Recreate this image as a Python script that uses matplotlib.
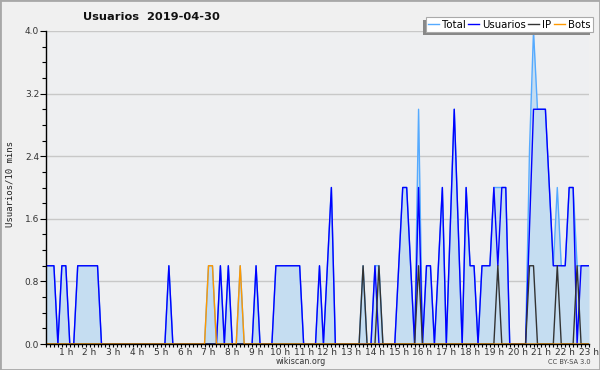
import matplotlib
matplotlib.use("Agg")
import matplotlib.pyplot as plt
from matplotlib.patches import Rectangle
from matplotlib.ticker import MultipleLocator, FixedLocator, FuncFormatter
import numpy as np

# ---- data (one value per 10 minutes, 00:10 .. 23:00) ----
n_points = 138
usuarios_nonzero = {0: 1, 1: 1, 2: 1, 4: 1, 5: 1, 8: 1, 9: 1, 10: 1, 11: 1, 12: 1, 13: 1,
                    31: 1, 44: 1, 46: 1, 53: 1,
                    58: 1, 59: 1, 60: 1, 61: 1, 62: 1, 63: 1, 64: 1,
                    69: 1, 71: 1, 72: 2, 83: 1,
                    89: 1, 90: 2, 91: 2, 92: 1, 94: 2, 96: 1, 97: 1, 99: 1, 100: 2,
                    102: 1.5, 103: 3, 104: 1.5, 106: 2, 107: 1, 108: 1,
                    110: 1, 111: 1, 112: 1, 113: 2, 114: 1, 115: 2, 116: 2,
                    122: 1.5, 123: 3, 124: 3, 125: 3, 126: 3, 127: 2,
                    128: 1, 129: 1, 130: 1, 131: 1, 132: 2, 133: 2,
                    135: 1, 136: 1, 137: 1}
ip_nonzero = {80: 1, 84: 1, 94: 1, 114: 1, 122: 1, 123: 1, 129: 1, 134: 1}
bots_nonzero = {41: 1, 42: 1, 49: 1}
total_nonzero = {0: 1, 1: 1, 2: 1, 4: 1, 5: 1, 8: 1, 9: 1, 10: 1, 11: 1, 12: 1, 13: 1,
                 31: 1, 41: 1, 42: 1, 44: 1, 46: 1, 49: 1, 53: 1,
                 58: 1, 59: 1, 60: 1, 61: 1, 62: 1, 63: 1, 64: 1,
                 69: 1, 71: 1, 72: 2, 80: 1, 83: 1, 84: 1,
                 89: 1, 90: 2, 91: 2, 92: 1, 94: 3, 96: 1, 97: 1, 99: 1, 100: 2,
                 102: 1.5, 103: 3, 104: 1.5, 106: 2, 107: 1, 108: 1,
                 110: 1, 111: 1, 112: 1, 113: 2, 114: 2, 115: 2, 116: 2,
                 122: 2.5, 123: 4, 124: 3, 125: 3, 126: 3, 127: 2,
                 128: 1, 129: 2, 130: 1, 131: 1, 132: 2, 133: 2, 134: 1,
                 135: 1, 136: 1, 137: 1}

hour_labels = [f"{h} h" for h in range(1, 24)]
hour_ticks = list(range(1, 24))
series_names = ["Total", "Usuarios", "IP", "Bots"]


def expand(d):
    return np.array([d.get(i, 0) for i in range(n_points)], dtype=float)


usuarios = expand(usuarios_nonzero)
ip = expand(ip_nonzero)
bots = expand(bots_nonzero)
total = expand(total_nonzero)
hours = (np.arange(n_points) + 1) / 6.0

# ---- figure ----
W, H = 600, 370
fig = plt.figure(figsize=(W / 100, H / 100), dpi=100, facecolor="#f0f0f0")
ax = fig.add_axes([46 / W, 26 / H, 543 / W, 313 / H])
ax.set_facecolor("#eeeff1")

c_total = "#55aaff"
c_fill = "#c5ddf1"
c_users = "#0000ff"
c_ip = "#333333"
c_bots = "#ff9900"

ax.fill_between(hours, 0, total, color=c_fill, lw=0, zorder=2)
l1, = ax.plot(hours, total, color=c_total, lw=1.0, zorder=3)
l2, = ax.plot(hours, usuarios, color=c_users, lw=1.0, zorder=4)
l3, = ax.plot(hours, ip, color=c_ip, lw=1.0, zorder=5)
l4, = ax.plot(hours, bots, color=c_bots, lw=1.0, zorder=6)

ax.set_xlim(hours[0], hours[-1])
ax.set_ylim(0, 4.0)

ax.yaxis.set_major_locator(MultipleLocator(0.8))
ax.yaxis.set_minor_locator(MultipleLocator(0.2))
ax.yaxis.set_major_formatter(FuncFormatter(lambda v, p: f"{v:.1f}"))
ax.xaxis.set_major_locator(FixedLocator(hour_ticks))
ax.set_xticklabels(hour_labels)
ax.xaxis.set_minor_locator(FixedLocator(hours))

ax.grid(axis="y", which="major", color="#c8c8c8", lw=1.0, zorder=1)
ax.set_axisbelow(True)

for s in ["top", "right"]:
    ax.spines[s].set_visible(False)
for s in ["left", "bottom"]:
    ax.spines[s].set_color("black")
    ax.spines[s].set_linewidth(1.0)
    ax.spines[s].set_zorder(10)

ax.tick_params(axis="y", which="major", length=4, width=0.8, labelsize=6.5,
               labelcolor="#333333", pad=1)
ax.tick_params(axis="y", which="minor", length=3, width=0.8)
ax.tick_params(axis="x", which="major", length=2.5, width=0.8, labelsize=6.5,
               labelcolor="#333333", pad=0.3)
ax.tick_params(axis="x", which="minor", length=2.5, width=0.8)

fig.text(151 / W, 1 - 17 / H, "Usuarios  2019-04-30", ha="center", va="center",
         fontsize=8.2, fontweight="bold", color="#111111")
fig.text(10 / W, 1 - 184 / H, "Usuarios/10 mins", rotation=90, ha="center",
         va="center", fontsize=6.5, family="DejaVu Sans Mono", color="#222222")
fig.text(301 / W, 1 - 362 / H, "wikiscan.org", ha="center", va="center",
         fontsize=5.8, color="#333333")
fig.text(569 / W, 1 - 362.5 / H, "CC BY-SA 3.0", ha="center", va="center",
         fontsize=4.8, color="#444444")

leg = fig.legend([l1, l2, l3, l4], series_names, ncol=4, loc="upper right",
                 bbox_to_anchor=(593 / W, 1 - 17 / H), bbox_transform=fig.transFigure,
                 borderaxespad=0, fontsize=7.3, handlelength=1.1, handletextpad=0.3,
                 columnspacing=0.2, borderpad=0.25, frameon=True, fancybox=False,
                 framealpha=1, edgecolor="#aaaaaa", facecolor="white")
leg.get_frame().set_linewidth(0.8)
leg.set_zorder(6)

fig.canvas.draw()
bb = leg.get_window_extent()
shadow = Rectangle((bb.x0 - 3, bb.y0 - 3), bb.width, bb.height, transform=None,
                   facecolor="#888888", edgecolor="none", zorder=5)
fig.add_artist(shadow)

fig.add_artist(Rectangle((0, 0), 1, 1, transform=fig.transFigure, fill=False,
                         edgecolor="#a8a8a8", lw=2, zorder=20))

fig.savefig("out.png", dpi=100, facecolor=fig.get_facecolor())
